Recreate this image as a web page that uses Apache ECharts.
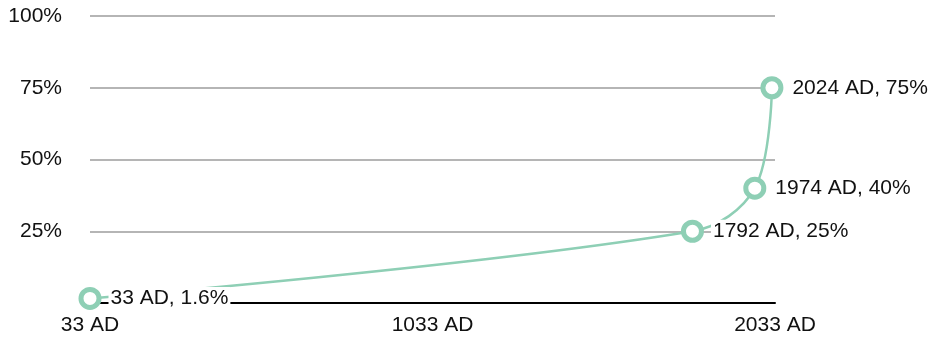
<!DOCTYPE html>
<html><head><meta charset="utf-8">
<script src="https://cdn.jsdelivr.net/npm/echarts@6/dist/echarts.min.js"></script>
<style>html,body{margin:0;padding:0;background:#fff}#c{width:939px;height:340px}</style>
</head><body><div id="c"></div>
<script>
const years = [33, 1792, 1974, 2024];
const shares = [1.6, 25, 40, 75];
const xTicks = [33, 1033, 2033];
const yTicks = [0, 25, 50, 75, 100];

const chart = echarts.init(document.getElementById('c'));
const font = 'Liberation Sans, Arial, Helvetica, sans-serif';
chart.setOption({
  animation: false,
  grid: {left: 90, right: 164, top: 16, bottom: 37, containLabel: false},
  xAxis: {
    type: 'value', min: xTicks[0], max: xTicks[xTicks.length-1], interval: 1000,
    axisLine: {show: true, lineStyle: {color: '#000', width: 2}},
    axisTick: {show: false},
    splitLine: {show: false},
    axisLabel: {color: '#111', fontSize: 21, fontFamily: font, margin: 12,
      formatter: v => v + ' AD'}
  },
  yAxis: {
    type: 'value', min: yTicks[0], max: yTicks[yTicks.length-1], interval: 25,
    axisLine: {show: false}, axisTick: {show: false},
    splitLine: {lineStyle: {color: '#b5b5b5', width: 2}},
    axisLabel: {color: '#111', fontSize: 21, fontFamily: font, margin: 28,
      formatter: v => v === 0 ? '' : v + '%'}
  },
  series: [{
    type: 'line',
    data: years.map((y, i) => [y, shares[i]]),
    smooth: 0.35,
    symbol: 'circle', symbolSize: 18, showAllSymbol: true,
    lineStyle: {color: '#8ecfb5', width: 2.5},
    itemStyle: {color: '#fff', borderColor: '#8ecfb5', borderWidth: 5},
    label: {
      show: true, position: 'right', distance: 7,
      color: '#111', fontSize: 21, fontFamily: font,
      backgroundColor: '#fff', padding: [1, 2],
      formatter: p => p.value[0] + ' AD, ' + p.value[1] + '%'
    },
    z: 5
  }]
});
</script></body></html>
